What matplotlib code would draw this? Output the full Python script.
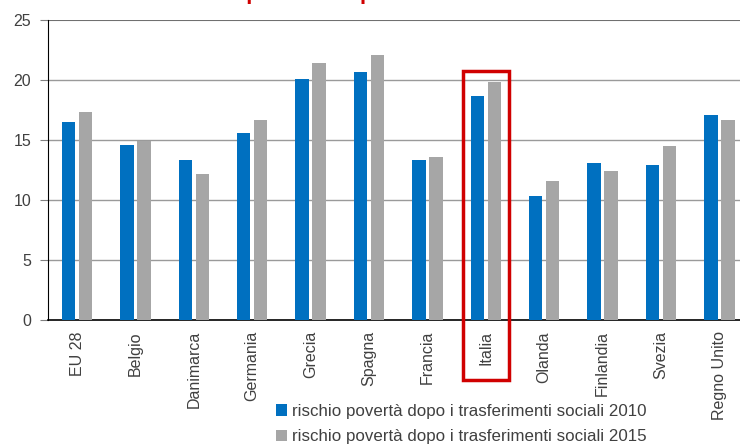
import matplotlib.pyplot as plt
import numpy as np
from matplotlib.patches import Rectangle

plt.rcParams["font.family"] = ["Liberation Sans Narrow", "Liberation Sans", "DejaVu Sans"]

# Rischio di povertà dopo i trasferimenti sociali (%)
paesi = ["EU 28", "Belgio", "Danimarca", "Germania", "Grecia", "Spagna",
         "Francia", "Italia", "Olanda", "Finlandia", "Svezia", "Regno Unito"]
rischio_2010 = [16.5, 14.6, 13.3, 15.6, 20.1, 20.7, 13.3, 18.7, 10.3, 13.1, 12.9, 17.1]
rischio_2015 = [17.3, 14.9, 12.2, 16.7, 21.4, 22.1, 13.6, 19.8, 11.6, 12.4, 14.5, 16.7]
y_ticks = [0, 5, 10, 15, 20, 25]

BLU = "#0070C0"
GRIGIO = "#A6A6A6"
ROSSO = "#D00000"
TESTO = "#404040"

fig = plt.figure(figsize=(7.40, 4.48), dpi=100)
ax = fig.add_axes([0.0646, 0.2857, 0.947, 0.6697])

x = np.arange(len(paesi))
w = 0.23
ax.bar(x - 0.145, rischio_2010, width=w, color=BLU, zorder=3,
       label="rischio povertà dopo i trasferimenti sociali 2010")
ax.bar(x + 0.145, rischio_2015, width=w, color=GRIGIO, zorder=3,
       label="rischio povertà dopo i trasferimenti sociali 2015")

ax.set_xlim(-0.5, len(paesi) - 0.5)
ax.set_ylim(0, 25)
ax.set_yticks(y_ticks)
ax.set_xticks(x)
ax.set_xticklabels(paesi, rotation=90, fontsize=11.5, color=TESTO)
ax.tick_params(axis="x", length=0, pad=8)
ax.tick_params(axis="y", labelsize=11.5, labelcolor=TESTO, length=6,
               color="#808080", pad=6)

for v in y_ticks[1:-1]:
    ax.axhline(v, color="#9a9a9a", lw=1, zorder=1)
ax.axhline(25, color="#707070", lw=1.5, zorder=1)

for s in ["top", "right"]:
    ax.spines[s].set_visible(False)
ax.spines["left"].set_color("black")
ax.spines["bottom"].set_color("black")
ax.spines["bottom"].set_linewidth(1.2)

# riquadro evidenziato sull'Italia
i_it = paesi.index("Italia")
ax.add_patch(Rectangle((i_it - 0.39, -5.0), 0.78, 25.75, fill=False,
                       edgecolor=ROSSO, lw=2.5, clip_on=False, zorder=4))

# titolo (tagliato in alto)
fig.text(0.216, 1.002, "Rischio povertà dopo i trasferimenti sociali",
         color=ROSSO, fontsize=16, fontweight="bold", ha="left",
         va="baseline", family=["Liberation Sans", "DejaVu Sans"])

fig.legend(loc="upper left", bbox_to_anchor=(0.361, 0.117), frameon=False,
           fontsize=12.2, handlelength=0.65, handleheight=0.65,
           handletextpad=0.3, labelspacing=0.6, borderpad=0, labelcolor=TESTO)

fig.savefig("out.png", dpi=100)
